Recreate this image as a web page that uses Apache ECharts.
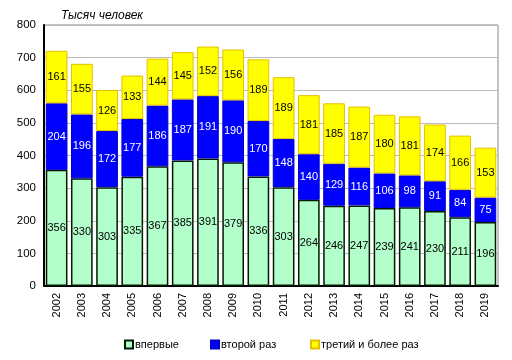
<!DOCTYPE html>
<html><head><meta charset="utf-8">
<script src="https://cdn.jsdelivr.net/npm/echarts@6/dist/echarts.min.js"></script>
<style>html,body{margin:0;padding:0;background:#fff}#c{width:512px;height:360px}</style>
</head><body><div id="c"></div>
<script>
const years = ['2002','2003','2004','2005','2006','2007','2008','2009','2010','2011','2012','2013','2014','2015','2016','2017','2018','2019'];
const firstTime = [356,330,303,335,367,385,391,379,336,303,264,246,247,239,241,230,211,196];
const secondTime = [204,196,172,177,186,187,191,190,170,148,140,129,116,106,98,91,84,75];
const thirdPlus = [161,155,126,133,144,145,152,156,189,189,181,185,187,180,181,174,166,153];
const names = ['впервые','второй раз','третий и более раз'];

const font = 'Arial, "Liberation Sans", sans-serif';
const chart = echarts.init(document.getElementById('c'), null, {renderer:'canvas'});
function lbl(color){return {show:true,position:'inside',color:color,fontSize:11,fontFamily:font};}
function leg(name,left){return {data:[name],left:left,top:334,itemWidth:8,itemHeight:8,icon:'rect',itemGap:0,
  textStyle:{fontSize:11,fontFamily:font,color:'#000',padding:[0,0,0,-3]},selectedMode:false};}
chart.setOption({
  animation:false,
  title:{text:'Тысяч человек',left:56,top:5,textStyle:{fontSize:12,fontStyle:'italic',fontWeight:'normal',fontFamily:font,color:'#000'}},
  legend:[leg(names[0],119),leg(names[1],205),leg(names[2],305)],
  grid:{left:44,right:14,top:25,bottom:74,show:true,borderColor:'#888',borderWidth:1},
  xAxis:{type:'category',data:years,
    axisLine:{lineStyle:{color:'#000',width:2}},axisTick:{show:false},
    axisLabel:{rotate:90,fontSize:11,fontFamily:font,color:'#000',margin:7,interval:0}},
  yAxis:{type:'value',min:0,max:800,interval:100,
    axisLine:{show:true,lineStyle:{color:'#000',width:2}},axisTick:{show:false},
    splitLine:{lineStyle:{color:'#bbb'}},
    axisLabel:{fontSize:11.5,fontFamily:font,color:'#000',margin:8}},
  series:[
    {name:names[0],type:'bar',stack:'a',data:firstTime,barCategoryGap:'14%',
     itemStyle:{color:'#b3ffcc',borderColor:'#001a00',borderWidth:1.5},label:lbl('#000')},
    {name:names[1],type:'bar',stack:'a',data:secondTime,
     itemStyle:{color:'#0000ff',borderColor:'#0000cc',borderWidth:1},label:lbl('#fff')},
    {name:names[2],type:'bar',stack:'a',data:thirdPlus,
     itemStyle:{color:'#ffff00',borderColor:'#e6c000',borderWidth:1},label:lbl('#000')}
  ]
});
</script></body></html>
